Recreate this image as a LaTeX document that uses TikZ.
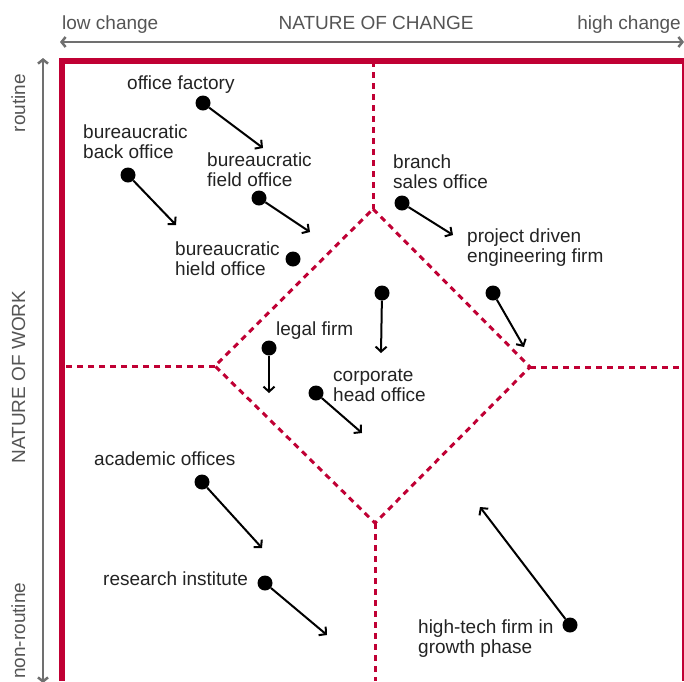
\documentclass[tikz,border=0pt]{standalone}
\usepackage{fontspec}
\setmainfont{Liberation Sans}
\usetikzlibrary{arrows.meta}
\definecolor{framered}{RGB}{192,0,52}
\definecolor{axisgrey}{RGB}{112,112,112}
\definecolor{labelgrey}{RGB}{85,85,85}
\definecolor{textdark}{RGB}{35,35,35}
\begin{document}
\begin{tikzpicture}[x=1pt,y=-1pt,
  lbl/.style={font=\fontsize{19}{20}\selectfont, text=textdark, inner sep=0pt, align=left, anchor=base west},
  axislbl/.style={font=\fontsize{19}{20}\selectfont, text=labelgrey, inner sep=0pt},
  dot/.style={circle, fill=black, minimum size=15pt, inner sep=0pt},
  move/.style={draw=black, line width=2pt, -{Straight Barb[length=5pt,width=11pt]}},
  axisline/.style={draw=axisgrey, line width=2.5pt, {Straight Barb[length=4pt,width=10pt]}-{Straight Barb[length=4pt,width=10pt]}},
  zone/.style={draw=framered, line width=3pt, dash pattern=on 6pt off 5pt},
  framethick/.style={draw=framered, line width=6pt},
  framethin/.style={draw=framered, line width=1.5pt}]
\useasboundingbox (0,0) rectangle (684,681);
\clip (0,0) rectangle (684,681);
\fill[white] (0,0) rectangle (684,681);

% axes
\coordinate (xl) at (60,42);
\coordinate (xr) at (684,42);
\coordinate (yb) at (43,683);
\coordinate (yt) at (43,58);
\draw[axisline] (xl) -- (xr);
\draw[axisline] (yb) -- (yt);
\node[axislbl, anchor=base west] (lowc) at (62,29) {low change};
\node[axislbl, anchor=base] (natc) at (376,29) {NATURE OF CHANGE};
\node[axislbl, anchor=base east] (highc) at (681,29) {high change};
\node[axislbl, rotate=90, anchor=base] (rout) at (25,103) {routine};
\node[axislbl, rotate=90, anchor=base] (natw) at (25,377) {NATURE OF WORK};
\node[axislbl, rotate=90, anchor=base west] (nonr) at (25,679) {non-routine};

% zones
\coordinate (dt) at (373,209);
\coordinate (dr) at (530,367);
\coordinate (db) at (375,523);
\coordinate (dl) at (215,366);
\coordinate (ft) at (373,61);
\coordinate (fr) at (684,367);
\coordinate (fb) at (375,681);
\coordinate (fl) at (62,366);
\draw[zone] (dt) -- (dr) -- (db) -- (dl) -- cycle;
\draw[zone] (ft) -- (dt);
\draw[zone] (dr) -- (fr);
\draw[zone] (db) -- (fb);
\draw[zone] (dl) -- (fl);

% frame
\coordinate (c1) at (62,681);
\coordinate (c2) at (62,61);
\coordinate (c3) at (684,61);
\coordinate (c4) at (683,61);
\coordinate (c5) at (683,681);
\draw[framethin] (c4) -- (c5);
\draw[framethick] (c1) -- (c2) -- (c3);

% labels (base = baseline of the last line)
\node[lbl] (tof) at (127,89) {office factory};
\node[lbl] (tbbo) at (83,158) {bureaucratic\\back office};
\node[lbl] (tbfo) at (207,186) {bureaucratic\\field office};
\node[lbl] (tbho) at (175,275) {bureaucratic\\hield office};
\node[lbl] (tbso) at (393,188) {branch\\sales office};
\node[lbl] (tpdef) at (467,262) {project driven\\engineering firm};
\node[lbl] (tlegal) at (276,335) {legal firm};
\node[lbl] (tcho) at (333,401) {corporate\\head office};
\node[lbl] (tacad) at (94,465) {academic offices};
\node[lbl] (tres) at (103,585) {research institute};
\node[lbl] (tht) at (418,653) {high-tech firm in\\growth phase};

% dots and moves
\node[dot] (of) at (203,103) {};
\coordinate (ofe) at (263,148);
\node[dot] (bbo) at (128,175) {};
\coordinate (bboe) at (176,225);
\node[dot] (bfo) at (259,198) {};
\coordinate (bfoe) at (310,232);
\node[dot] (bho) at (293,259) {};
\node[dot] (bso) at (402,203) {};
\coordinate (bsoe) at (453,235);
\node[dot] (pdef) at (493,293) {};
\coordinate (pdefe) at (524,347);
\node[dot] (mid) at (382,293) {};
\coordinate (mide) at (381,353);
\node[dot] (legal) at (269,348) {};
\coordinate (legale) at (269,393);
\node[dot] (cho) at (316,393) {};
\coordinate (choe) at (362,433);
\node[dot] (acad) at (202,482) {};
\coordinate (acade) at (262,548);
\node[dot] (res) at (265,583) {};
\coordinate (rese) at (327,635);
\node[dot] (ht) at (570,625) {};
\coordinate (hte) at (480,507);

\draw[move] (of) -- (ofe);
\draw[move] (bbo) -- (bboe);
\draw[move] (bfo) -- (bfoe);
\draw[move] (bso) -- (bsoe);
\draw[move] (pdef) -- (pdefe);
\draw[move] (mid) -- (mide);
\draw[move] (legal) -- (legale);
\draw[move] (cho) -- (choe);
\draw[move] (acad) -- (acade);
\draw[move] (res) -- (rese);
\draw[move] (ht) -- (hte);
\end{tikzpicture}
\end{document}
